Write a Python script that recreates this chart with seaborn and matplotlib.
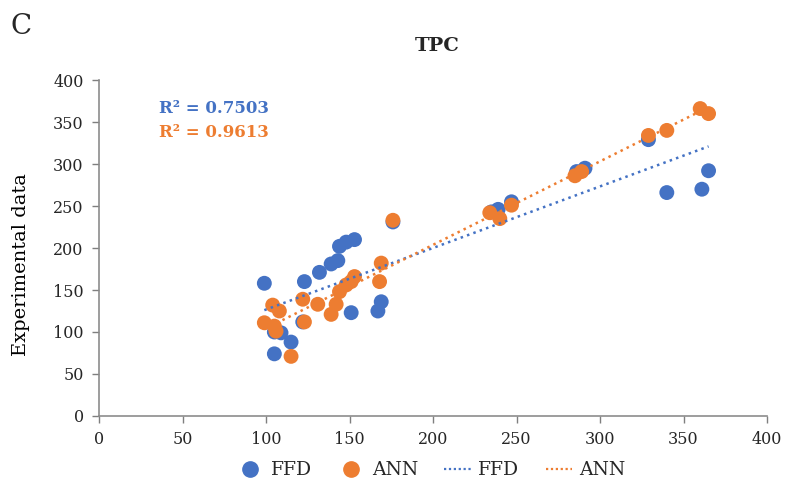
import matplotlib
matplotlib.use("Agg")
import matplotlib.pyplot as plt
from matplotlib.lines import Line2D
import numpy as np
import pandas as pd
import seaborn as sns

# FFD model: predicted vs experimental TPC
ffd_x = [99, 105, 109, 105, 115, 122, 123, 132, 139, 143, 144, 148, 153, 151,
         167, 169, 176, 235, 239, 247, 286, 291, 329, 340, 361, 365]
ffd_y = [158, 100, 99, 74, 88, 112, 160, 171, 181, 185, 202, 207, 210, 123,
         125, 136, 231, 243, 246, 255, 291, 295, 329, 266, 270, 292]

# ANN model: predicted vs experimental TPC
ann_x = [99, 104, 108, 105, 106, 115, 122, 123, 131, 139, 142, 144, 148, 151,
         153, 168, 169, 176, 234, 240, 247, 285, 289, 329, 340, 360, 365]
ann_y = [111, 132, 125, 107, 101, 71, 139, 112, 133, 121, 133, 148, 156, 160,
         166, 160, 182, 233, 242, 235, 251, 286, 291, 334, 340, 366, 360]

r2_labels = ["R\u00b2 = 0.7503", "R\u00b2 = 0.9613"]
x_ticks = [0, 50, 100, 150, 200, 250, 300, 350, 400]
y_ticks = [0, 50, 100, 150, 200, 250, 300, 350, 400]

BLUE = "#4472C4"
ORANGE = "#ED7D31"

sns.set_theme(style="white")
plt.rcParams["font.family"] = ["DejaVu Serif"]

df = pd.concat([
    pd.DataFrame({"pred": ffd_x, "exp": ffd_y, "Model": "FFD"}),
    pd.DataFrame({"pred": ann_x, "exp": ann_y, "Model": "ANN"}),
], ignore_index=True)

fig = plt.figure(figsize=(7.87, 4.84), dpi=100)
ax = fig.add_axes([0.1258, 0.1405, 0.8488, 0.6942])

sns.scatterplot(data=df, x="pred", y="exp", hue="Model",
                palette={"FFD": BLUE, "ANN": ORANGE}, s=115,
                edgecolor="none", legend=False, ax=ax, zorder=2)

for xs, ys, c in [(ffd_x, ffd_y, BLUE), (ann_x, ann_y, ORANGE)]:
    sns.regplot(x=np.array(xs), y=np.array(ys), scatter=False, ci=None,
                color=c, ax=ax,
                line_kws=dict(ls=(0, (1, 1.7)), lw=1.8, zorder=3))

ax.set_xlim(0, 400)
ax.set_ylim(0, 400)
ax.set_xticks(x_ticks)
ax.set_yticks(y_ticks)
ax.tick_params(axis="both", labelsize=11.5, colors="#262626", length=5,
               width=1, direction="out", color="#7f7f7f",
               bottom=True, left=True, pad=6)
for side in ["top", "right"]:
    ax.spines[side].set_visible(False)
for side in ["left", "bottom"]:
    ax.spines[side].set_color("#8c8c8c")
    ax.spines[side].set_linewidth(1.2)
ax.set_xlabel("")
ax.set_ylabel("Experimental data", fontsize=14, color="black")
ax.yaxis.set_label_coords(-0.104, 0.45)
ax.grid(False)

ax.text(36, 366, r2_labels[0], color=BLUE, fontsize=12, fontweight="bold",
        va="center", ha="left")
ax.text(36, 337, r2_labels[1], color=ORANGE, fontsize=12, fontweight="bold",
        va="center", ha="left")

fig.text(0.556, 0.905, "TPC", fontsize=14, fontweight="bold", ha="center",
         va="center")
fig.text(0.013, 0.945, "C", fontsize=20, ha="left", va="center")

handles = [
    Line2D([], [], marker="o", ls="none", color=BLUE, markersize=11),
    Line2D([], [], marker="o", ls="none", color=ORANGE, markersize=11),
    Line2D([], [], ls=(0, (1, 1.2)), lw=1.6, color=BLUE),
    Line2D([], [], ls=(0, (1, 1.2)), lw=1.6, color=ORANGE),
]
fig.legend(handles, ["FFD", "ANN", "FFD", "ANN"], loc="center",
           bbox_to_anchor=(0.548, 0.028), ncol=4, frameon=False, fontsize=13.5,
           handlelength=1.4, handletextpad=0.4, columnspacing=1.4)

fig.savefig("out.png", dpi=100)
